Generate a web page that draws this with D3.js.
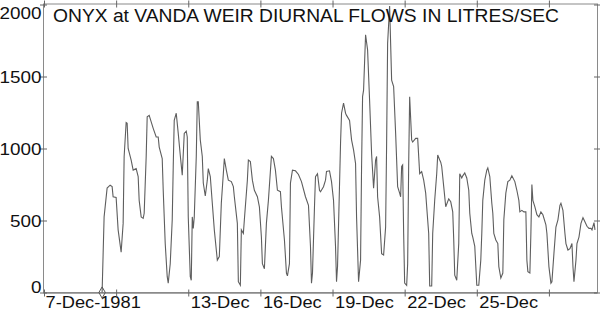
<!doctype html>
<html>
<head>
<meta charset="utf-8">
<title>Onyx at Vanda Weir</title>
<script src="https://d3js.org/d3.v7.min.js"></script>
<style>
  body { margin: 0; background: #fff; overflow: hidden; }
  svg { display: block; }
  text { font-family: "Liberation Sans", Arial, sans-serif; fill: #111; }
</style>
</head>
<body>
<div id="chart"></div>
<script>
// hours after 7-Dec-1981 00:00, and flow in litres/sec
var startDate = new Date(1981, 11, 7);
var endDate = new Date(1981, 11, 30);

var hours = [58,60,63,66,68,69,72,74,77,79,80,82,83,84,87,89,92,94,95,97,99,100,102,103,105,107,109,112,114,115,118,119,121,123,124,126,128,129,130,132,134,136,138,140,142,143,144,146,147,148,149,150,152,153,154,156,158,159,161,163,164,166,168,170,173,175,177,179,180,182,184,187,189,190,193,194,196,197,199,200,203,204,206,208,210,213,215,217,218,220,222,224,227,229,231,233,236,237,240,242,243,245,246,248,251,254,257,261,264,266,267,268,270,271,273,275,276,279,281,282,285,287,289,291,292,293,296,297,299,301,302,305,307,309,311,312,314,316,317,318,319,321,323,325,327,329,331,332,333,335,337,339,341,342,343,345,346,347,349,351,353,355,356,357,358,359,360,362,363,364,365,367,368,371,373,375,377,379,381,382,384,385,387,388,390,392,393,395,396,397,399,401,404,406,408,409,410,412,414,415,417,418,420,422,424,425,427,428,430,432,434,436,437,438,440,442,443,445,447,448,449,451,453,454,456,458,459,461,463,465,467,470,472,474,475,477,479,481,482,483,485,486,487,488,490,492,494,496,498,501,502,504,506,507,509,511,513,515,516,518,520,521,523,525,527,528,529,531,532,534,536,538,539,542,544,546,547,549,550];

var flows = [0,525,725,745,735,665,660,435,280,480,945,1180,1175,1000,920,850,860,805,640,525,515,550,945,1220,1230,1185,1140,1080,1080,1010,930,710,340,110,65,200,505,875,1195,1245,1105,955,815,1105,1120,1080,525,110,85,525,445,525,945,1325,1325,1060,945,760,670,780,860,805,620,435,225,250,620,825,930,850,780,770,735,665,480,75,50,435,410,505,780,920,910,780,710,665,595,385,200,165,480,640,945,930,850,710,700,595,365,135,115,200,760,850,845,820,770,665,605,320,65,135,595,805,825,710,700,735,780,840,845,770,640,320,75,180,1035,1245,1315,1245,1230,1195,1060,990,895,525,75,225,875,1360,1405,1790,1685,1335,965,725,920,945,665,525,270,260,455,1035,1730,1990,1730,1475,1430,1105,735,690,665,875,885,410,65,50,200,875,1360,1060,1045,1070,1070,825,840,780,690,595,410,45,45,410,640,825,955,920,905,875,735,595,650,630,560,365,120,85,340,825,795,810,830,795,710,550,410,385,320,50,50,225,410,640,780,850,865,805,620,550,410,365,340,180,100,135,505,690,770,780,810,770,710,640,560,570,560,560,225,145,135,410,750,640,595,540,525,560,540,470,410,180,65,75,270,455,505,605,620,570,410,340,295,305,340,180,75,225,340,385,480,520,505,460,445,445,435,485,435];

var yTicks = [0, 500, 1000, 1500, 2000];
var xTickDays = [7, 10, 13, 16, 19, 22, 25, 28];
var xTickLabels = ["7-Dec-1981", "", "13-Dec", "16-Dec", "19-Dec", "22-Dec", "25-Dec", ""];
var title = "ONYX at VANDA WEIR DIURNAL FLOWS IN LITRES/SEC";

var width = 600, height = 311;
var plotLeft = 44, plotRight = 597, plotTop = 4.5, plotBottom = 292.5;

var svg = d3.select("#chart").append("svg")
    .attr("width", width)
    .attr("height", height);

var data = hours.map(function(h, i){
  return { date: d3.timeHour.offset(startDate, h), value: flows[i] };
});

var x = d3.scaleTime()
    .domain([startDate, endDate])
    .range([plotLeft, plotRight]);

var y = d3.scaleLinear()
    .domain([0, 2000])
    .range([plotBottom, plotTop]);

var xTickDates = xTickDays.map(function(d){ return new Date(1981, 11, d); });

// frame
svg.append("rect")
    .attr("x", plotLeft - 0.5)
    .attr("y", plotTop - 0.5)
    .attr("width", plotRight - plotLeft + 1)
    .attr("height", plotBottom - plotTop + 0.5)
    .attr("fill", "none")
    .attr("stroke", "#8a8a8a")
    .attr("stroke-width", 1);

svg.append("line")
    .attr("x1", plotLeft - 0.5).attr("x2", plotRight + 0.5)
    .attr("y1", plotBottom + 0.5).attr("y2", plotBottom + 0.5)
    .attr("stroke", "#8a8a8a")
    .attr("stroke-width", 1.5);

// ticks cross the frame, so shift each tick line by half its length
function crossTicks(g, dx, dy) {
  g.select(".domain").remove();
  g.selectAll(".tick line")
    .attr("stroke", "#666")
    .attr("transform", "translate(" + dx + "," + dy + ")");
}

var yLeft = d3.axisLeft(y).tickValues(yTicks).tickSize(7).tickPadding(3)
    .tickFormat(d3.format("d"));
svg.append("g")
    .attr("class", "y axis")
    .attr("transform", "translate(" + (plotLeft - 0.5) + ",0)")
    .call(yLeft)
    .call(crossTicks, 3.5, 0)
    .call(function(g){
      g.selectAll(".tick text")
        .attr("font-size", 16)
        .attr("font-family", "Liberation Sans, Arial, sans-serif")
        .attr("fill", "#111")
        .attr("x", -2)
        .attr("dy", function(d){ return d == 0 ? "0em" : d == 2000 ? "0.85em" : "0.35em"; });
    });

svg.append("g")
    .attr("class", "y axis right")
    .attr("transform", "translate(" + (plotRight + 0.5) + ",0)")
    .call(d3.axisRight(y).tickValues(yTicks).tickSize(7).tickFormat(""))
    .call(crossTicks, -3.5, 0);

svg.append("g")
    .attr("class", "x axis top")
    .attr("transform", "translate(0," + (plotTop - 0.5) + ")")
    .call(d3.axisTop(x).tickValues(xTickDates).tickSize(7).tickFormat(""))
    .call(crossTicks, 0, 3.5);

svg.append("g")
    .attr("class", "x axis")
    .attr("transform", "translate(0," + (plotBottom + 0.5) + ")")
    .call(d3.axisBottom(x).tickValues(xTickDates).tickSize(7)
      .tickFormat(function(d, i){ return xTickLabels[i]; }))
    .call(crossTicks, 0, -3.5)
    .call(function(g){
      g.selectAll(".tick text")
        .attr("font-size", 16)
        .attr("font-family", "Liberation Sans, Arial, sans-serif")
        .attr("fill", "#111")
        .attr("text-anchor", "start")
        .attr("x", function(d, i){ return i == 0 ? 1 : 2; })
        .attr("y", 4)
        .attr("dy", "0.71em");
    });

// flow line
var line = d3.line()
    .x(function(d){ return x(d.date); })
    .y(function(d){ return y(d.value); });

svg.append("path")
    .datum(data)
    .attr("fill", "none")
    .attr("stroke", "#5e5e5e")
    .attr("stroke-width", 1.1)
    .attr("d", line);

// start marker
svg.append("path")
    .attr("d", d3.symbol().type(d3.symbolDiamond).size(36))
    .attr("transform", "translate(" + x(data[0].date) + "," + y(data[0].value) + ")")
    .attr("fill", "none")
    .attr("stroke", "#555");

svg.append("text")
    .attr("class", "title")
    .attr("x", 53)
    .attr("y", 21.5)
    .attr("font-size", 17.5)
    .attr("textLength", 506)
    .attr("lengthAdjust", "spacingAndGlyphs")
    .text(title);

// the original lettering is a little wider than Liberation Sans
function stretch(sel, k) {
  sel.each(function(){
    var w = this.getComputedTextLength();
    if (w > 0) d3.select(this).attr("textLength", w * k).attr("lengthAdjust", "spacingAndGlyphs");
  });
}
stretch(svg.selectAll(".y.axis .tick text"), 1.18);
stretch(svg.selectAll(".x.axis .tick text"), 1.14);
</script>
</body>
</html>
